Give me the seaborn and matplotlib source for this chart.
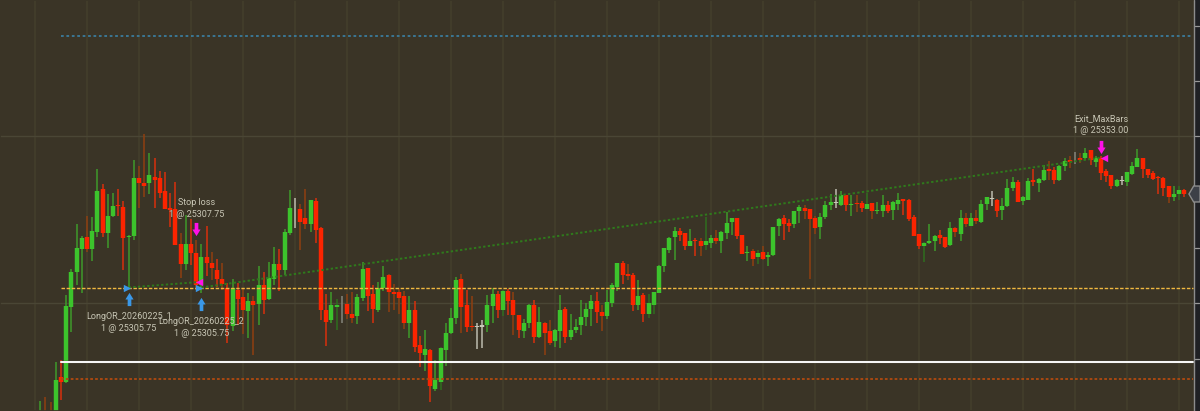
import pandas as pd
import matplotlib.pyplot as plt
import seaborn as sns
from matplotlib.patches import Rectangle

base_price = 25300

# candle values, points above base_price, bar 1 is the first one on the left
open_pts = [
    -46, -41, -40, -42, -26.75, -28.75, -1.5, 11.25, 19.75, 24,
    19.75, 26, 41.5, 25.75, 31.75, 35.75, 35, 24, 24.5, 45.75,
    43.75, 43.75, 46, 45.5, 40.75, 34.75, 34.25, 21.75, 14.25, 21.75,
    18.25, 6.75, 16.75, 14.75, 12, 8.75, 5.75, -8.25, 4.75, 2.25,
    -2.75, 1, -0.25, 6.75, 1.5, 8.75, 14.25, 12, 25.75, 34.75,
    34.25, 31, 28.75, 37.25, 27.25, -2.5, -6, -1.25, -0.5, -0.25,
    -3.75, -4.75, 2, 13, 3.25, -2.25, 5.75, 10.25, 4, 4,
    2.75, -7, -2.25, -15.25, -18.75, -17, -31, -28.5, -17, -10.75,
    -5.25, 8.75, -0.75, -8.25, -8.25, -8, -7.75, -1, 3.5, -2.5,
    4.5, 1.25, -4.25, -10, -7.25, -0.75, -12.25, -7, -10, -13.75,
    -10, -2, -12.25, -9.75, -8, -5, -2, 0.75, -3.25, -4.75,
    0.25, 6, 14.5, 10.75, 10.25, -0.5, 3, -4, -0.5, 3.75,
    13.5, 19.5, 24, 26.25, 25.5, 20.75, 23, 22.75, 21.25, 22,
    23.75, 22.75, 25.75, 29.5, 31, 24.75, 18.25, 19, 16.75, 18.5,
    16.75, 17.5, 28, 31, 29.25, 29, 33.5, 34.75, 34.25, 31,
    27.75, 31.5, 35.75, 36.75, 35.75, 39.5, 35.75, 36.5, 36.5, 34.25,
    36.5, 33.5, 33.75, 35.75, 34, 36, 38, 37.5, 31.25, 25.25,
    21, 22, 22.75, 24.75, 24, 21.25, 27.25, 25.25, 31, 28.25,
    31, 29.5, 36, 38.25, 37.75, 34, 35.25, 42, 44.25, 37.25,
    37.75, 44.75, 43.75, 44.75, 49, 48.5, 44.75, 50, 52, 52.25,
    53, 52.75, 55.75, 51.5, 53, 48, 46.75, 42.75, 44.5, 44.25,
    47, 49.75, 53, 49, 47.25, 46, 45.75, 42.5, 38.75, 39.75, 41.25,
]
close_pts = [
    -42, -44, -43, -27.75, -28.75, -1, 11.25, 20, 23.75, 19.75,
    26.25, 41, 25.5, 31.75, 35.5, 35.25, 23.75, 24.5, 45.75, 43.75,
    42.75, 46.75, 45, 40.25, 34.25, 34, 21.25, 14.25, 21.5, 18.25,
    6.75, 17, 14.75, 12.75, 8.75, 7, -8, 5.75, 1.5, -2.5,
    0.75, -0.5, 6.75, 1.25, 9.25, 14.25, 12, 26, 34.75, 34.5,
    29.75, 28.75, 37.5, 26.75, -2.5, -6.75, -0.75, -0.5, -0.75, -4,
    -5.25, 2.25, 12.5, 2.75, -2, 5.75, 9.75, 4.25, 3.5, 2,
    -7, -2.25, -15.75, -18.25, -16.5, -30.25, -28, -16.25, -10.75, -5.25,
    8.5, -1.25, -8.75, -8.75, -8.75, -8.5, -0.75, 3.25, -2.5, 4.5,
    0.75, -4.25, -9.75, -7, -0.5, -12.25, -6.75, -10.75, -14.5, -9.75,
    -2.25, -12.25, -9.75, -8.5, -5, -2, 0.75, -3.25, -4.75, 0.5,
    6.5, 14.75, 10.25, 10, -0.5, 2.75, -4, 0, 4, 13.5,
    20, 23.75, 26.25, 25, 20.75, 22.75, 22.5, 21, 22.75, 23.75,
    22.5, 26, 29.25, 31, 24.5, 18, 18.75, 16, 18.25, 16.25,
    17.5, 27.75, 30.75, 29, 28.25, 33.5, 35, 33.5, 30.75, 27.5,
    31.5, 35.75, 37, 36.5, 39.25, 35.75, 36, 36, 34.75, 36,
    33.75, 34, 35.75, 33.5, 36.75, 37.75, 37.25, 30.5, 24.5, 21,
    22, 22.75, 24.5, 23.75, 20.5, 27.25, 26, 31, 28.75, 31,
    30, 36, 38.5, 38, 33.75, 35.5, 42, 44, 37, 38.5,
    44.5, 44, 45.25, 48.5, 48, 44.75, 50, 51.75, 51.5, 52,
    52.25, 54.5, 52.25, 53, 47.25, 46.25, 42.5, 44.75, 44.75, 47.75,
    50, 52.75, 48.75, 46.75, 45.25, 45.5, 42, 38.75, 39.75, 41.25, 39.75,
]
high_pts = [
    -35.5, -34, -35.75, -21.5, -20.5, 3, 12.5, 28.75, 24.5, 31.75,
    31.5, 48.75, 43.25, 39.75, 40, 41.5, 37.25, 24.75, 52.25, 50,
    61.5, 54.5, 53, 48, 47.75, 40, 44.25, 25.5, 32, 30.75,
    23, 21.5, 28.25, 18.5, 16, 14.5, 7.25, 9, 7.25, 5.25,
    3.75, 2.5, 13.75, 11.5, 15, 20.5, 19.75, 27, 41.25, 38.25,
    36.25, 41.75, 37.5, 38.25, 27.75, 3.25, 4, 1.75, 2.75, 3.5,
    4.25, 3.5, 15, 13, 6.5, 7.75, 13.5, 10.5, 7, 5.5,
    4.5, 2.75, 0.75, -12, -9.75, -16.75, -20.5, -15.75, -7, -1.75,
    9.75, 10.75, 4.75, 2.5, -7, -6, 3, 5.5, 4.5, 4.75,
    5.25, 4, -4.25, -5.75, -0.25, 1.25, -1.25, -6.75, -6, -9.5,
    3, -1.5, -4, -5.75, 1.25, 0.25, 3, 4, -0.75, 4.75,
    7.25, 14.75, 15.5, 14.25, 11, 8.5, 3.75, 3.5, 4, 14,
    20.25, 24.25, 27.75, 27.25, 25.75, 27, 23.75, 23.75, 31.25, 24.75,
    26.75, 26.25, 33.25, 31, 31, 24.75, 20.75, 19.75, 19.5, 20.75,
    18.75, 27.75, 31, 32.25, 30.75, 33.75, 35.75, 35.75, 34.25, 31.75,
    32.75, 37.25, 39.75, 41.5, 41, 39.5, 39.5, 39.5, 37.25, 40.25,
    36.5, 37, 39.25, 37.25, 37.25, 40.25, 38, 38, 32, 25.25,
    22.25, 28.75, 24.75, 26.75, 24, 29.75, 27.75, 34, 32.75, 33,
    34, 37.5, 38.75, 40.75, 38, 38.25, 45.25, 46, 44.75, 39,
    45.5, 49, 45.75, 50.25, 51.75, 49.75, 50.25, 53, 53.5, 55,
    54.5, 56.5, 55.75, 53.5, 53.5, 48.75, 46.75, 45.25, 46.25, 47.75,
    51.5, 56, 53, 49, 48, 46.25, 46, 42.75, 42.75, 42.75, 41.75,
]
low_pts = [
    -48, -48, -48, -46, -35.25, -29, -10.25, 6.5, 3.75, 18.5,
    15.25, 24.25, 24.25, 20.25, 31.5, 31.75, 12, 5.5, 23, 34.5,
    38.75, 39.75, 34.75, 38.25, 34.25, 27.75, 21.25, 9.25, 12, 14,
    4.75, 3.75, 10, 8.5, 6, 4.75, -14.5, -10, -8, -11,
    -12.5, -18.75, -8, -4, 1.25, 6.75, 4.5, 10.25, 24.75, 27.25,
    19.5, 27, 26, 22, -6, -15.5, -7, -9.75, -7.25, -5.75,
    -7, -7.5, 1, -2.75, -7, -3, 4.5, -3, -2.5, -4,
    -9.25, -12.5, -17.75, -23, -24.5, -35.75, -32, -31.5, -22.75, -11.25,
    -7.5, -10.75, -10.5, -10, -16.5, -16.25, -10.25, -7, -5.25, -4.5,
    -4.25, -11.5, -12.75, -12.5, -9, -14.25, -12.5, -18.75, -15.25, -16,
    -16.25, -14.25, -13.5, -10.75, -11.5, -8.25, -8.25, -7, -10, -5.75,
    -1.25, 4.5, 7, 8.5, -2.75, -2.25, -6.75, -5.25, -4, 3.75,
    11.25, 18.25, 15.75, 22.75, 19.5, 20.75, 17.25, 17.25, 19.5, 20,
    21.5, 18.25, 23.5, 24.75, 23.5, 18, 15.5, 13.5, 14.25, 15.75,
    13.5, 17.25, 24.5, 23, 26, 27.5, 29.25, 30.5, 8.75, 25.25,
    23.25, 30.5, 34, 34.5, 35.5, 33.5, 31.75, 33.25, 33.25, 34.25,
    30.75, 32.5, 31.5, 32.75, 30.25, 34, 32, 30, 24.5, 19.75,
    15, 21.75, 19, 21.75, 20.25, 21, 24, 22.75, 27.75, 28,
    28.75, 29.25, 34, 35.5, 31.25, 30.25, 35, 41, 37, 35.75,
    37.5, 42.5, 40.5, 44.5, 44.75, 43.5, 44.5, 48.25, 49.25, 50.75,
    51, 52, 50.25, 49.75, 44.75, 44, 41.5, 42.25, 43, 42.75,
    46.75, 49.5, 45.75, 45.75, 44.75, 39.75, 39, 36.5, 37.25, 37.75, 38.5,
]

doji_bars = [50, 85, 86, 154, 184, 209]
gray_bars = [59, 200]
brown_wicks = [2, 3, 10, 20, 21, 28, 31, 34, 36, 40, 42, 51, 52, 60, 61, 68, 69, 70, 71,
               82, 84, 92, 98, 99, 109, 114, 128, 131, 138, 140, 148, 149, 150, 158,
               161, 177, 179, 181, 195, 199, 201, 218]
dim_wicks = [58, 78, 90, 118, 119, 129, 139, 160, 171, 220]

# horizontal levels on the chart
level_blue = 97.2
level_entry = 5.75
level_white = -21.35
level_brown = -27.5
level_start_bar = 5
level_end_bar = 222.7

# price scale, ticks sit a touch wider than the candle reading
grid_prices = [25300, 25360.7]
scale_ticks = [25279.8, 25300, 25320.2, 25340.4, 25380.8, 25401]

# trades
entry_bars = [18, 32]
entry_prices = [25305.75, 25305.75]
stop_bar = 31
stop_price = 25307.75
exit_bar = 205
exit_price = 25353.00
entry_arrow_y = [25301.4, 25299.6]
exit_arrow_bars = [31, 205]
exit_arrow_y = [25327.0, 25357.0]
labels = [
    (18, 25295.3, "LongOR_20260225_1"),
    (18, 25290.9, "1 @ 25305.75"),
    (32, 25293.5, "LongOR_20260225_2"),
    (32, 25289.1, "1 @ 25305.75"),
    (31, 25336.8, "Stop loss"),
    (31, 25332.4, "1 @ 25307.75"),
    (205, 25367.2, "Exit_MaxBars"),
    (205, 25362.9, "1 @ 25353.00"),
]

bg = "#3a3426"
green = "#3cc42c"
red = "#fb2400"
text_col = "#c9c7b6"

sns.set_theme(style="darkgrid", rc={
    "figure.facecolor": bg,
    "axes.facecolor": bg,
    "axes.edgecolor": bg,
})
plt.rcParams["font.family"] = ["Roboto", "DejaVu Sans"]

# Build candle table
df = pd.DataFrame({"open": open_pts, "high": high_pts, "low": low_pts, "close": close_pts})
df[["open", "high", "low", "close"]] += base_price
df["bar"] = range(1, len(df) + 1)


def body_kind(row):
    if row["bar"] in doji_bars:
        return "doji"
    if row["bar"] in gray_bars:
        return "gray"
    return "up" if row["close"] > row["open"] else "down"


def wick_kind(row):
    if row["bar"] in doji_bars or row["bar"] in gray_bars:
        return body_kind(row)
    if row["bar"] in brown_wicks:
        return "brown"
    if row["bar"] in dim_wicks:
        return "dim"
    return body_kind(row)


df["body"] = df.apply(body_kind, axis=1)
df["wick"] = df.apply(wick_kind, axis=1)

wicks = pd.concat([
    df[["bar", "high", "wick"]].rename(columns={"high": "price"}),
    df[["bar", "low", "wick"]].rename(columns={"low": "price"}),
])
bodies = pd.concat([
    df[["bar", "open", "body"]].rename(columns={"open": "price"}),
    df[["bar", "close", "body"]].rename(columns={"close": "price"}),
])

wick_colors = {"up": "#3f9a2a", "down": "#d8300c", "brown": "#8f3f10", "dim": "#2f6e1f",
               "doji": "#bdbcae", "gray": "#85857b"}
body_colors = {"up": green, "down": red, "doji": "#c8c8b8", "gray": "#9a9a90"}

fig = plt.figure(figsize=(12, 4.11), dpi=100)
ax = fig.add_axes([0, 0, 1, 1])

sns.lineplot(data=wicks, x="bar", y="price", hue="wick", units="bar", estimator=None,
             palette=wick_colors, linewidth=1.1, legend=False, sort=False,
             solid_capstyle="butt", ax=ax)
sns.lineplot(data=bodies, x="bar", y="price", hue="body", units="bar", estimator=None,
             palette=body_colors, linewidth=3.2, legend=False, sort=False,
             solid_capstyle="butt", ax=ax)

# Level lines
span = [level_start_bar, level_end_bar]
ax.plot(span, [base_price + level_blue] * 2, color="#3b7c9c", lw=1.3, ls=(0, (1.5, 1.5)), zorder=5)
ax.plot(span, [base_price + level_entry] * 2, color="#f0b840", lw=1.0, ls=(0, (2.5, 1.2)), zorder=5)
ax.plot(span, [base_price + level_white + 0.35] * 2, color="#26251f", lw=1.0, zorder=5)
ax.plot(span, [base_price + level_white] * 2, color="#f6f6f6", lw=1.5, zorder=5)
ax.plot(span, [base_price + level_brown] * 2, color="#b04a10", lw=1.3, ls=(0, (1.5, 1.2)), zorder=5)

# Trade connector lines
ax.plot([entry_bars[0], stop_bar + 0.5], [entry_prices[0], stop_price],
        color="#2f7a1c", lw=1.4, ls=(0, (1.2, 1.2)), zorder=5)
ax.plot([entry_bars[1], exit_bar], [entry_prices[1], exit_price],
        color="#2f7a1c", lw=1.4, ls=(0, (1.2, 1.2)), zorder=5)

# Arrow markers
up_arrow = [(-0.28, -1), (0.28, -1), (0.28, 0), (0.62, 0), (0, 1), (-0.62, 0), (-0.28, 0)]
down_arrow = [(x, -y) for x, y in up_arrow]
sns.scatterplot(x=entry_bars, y=entry_arrow_y, marker=up_arrow, s=90, color="#3a98e8",
                linewidth=0, legend=False, zorder=6, ax=ax)
sns.scatterplot(x=exit_arrow_bars, y=exit_arrow_y, marker=down_arrow, s=90, color="#ff10e8",
                linewidth=0, legend=False, zorder=6, ax=ax)
sns.scatterplot(x=[b - 0.4 for b in entry_bars], y=entry_prices, marker=">", s=28, color="#3a98e8",
                linewidth=0, legend=False, zorder=6, ax=ax)
sns.scatterplot(x=[stop_bar + 0.5, exit_bar + 0.5], y=[stop_price, exit_price], marker="<", s=28,
                color="#ff10e8", linewidth=0, legend=False, zorder=6, ax=ax)

for bar, price, label in labels:
    ax.text(bar, price, label, color=text_col, fontsize=6.5, ha="center", va="center", zorder=7)

# Grid and limits
ax.set_xlim(-6.73, 224.04)
ax.set_ylim(25260.84, 25410.3)
ax.set_xticks(range(0, 230, 10))
ax.set_yticks(grid_prices)
ax.grid(True, axis="x", linewidth=1.4, color="#423d2b")
ax.grid(True, axis="y", linewidth=1.0, color="#4a4635")
ax.tick_params(left=False, bottom=False, labelleft=False, labelbottom=False)
ax.set_xlabel("")
ax.set_ylabel("")

# Price scale strip on the right
ax.add_patch(Rectangle((0.995, 0), 0.005, 1, transform=ax.transAxes, facecolor="#1f2024",
                       edgecolor="none", zorder=8))
ax.plot([0.995, 0.995], [0, 1], transform=ax.transAxes, color="#8c8c8c", lw=1.0, zorder=9)
strip = ax.get_yaxis_transform()
for tick in scale_ticks + [grid_prices[1]]:
    ax.plot([0.9955, 0.9992], [tick, tick], transform=strip, color="#9a9a9a", lw=0.9, zorder=9)
last = df["close"].iloc[-1]
hexagon_x = [0.9908, 0.9947, 1.0, 1.0, 0.9947]
hexagon_y = [last, last + 2.9, last + 2.9, last - 2.9, last - 2.9]
ax.fill(hexagon_x, hexagon_y, transform=strip, facecolor="#3d4047", edgecolor="#8c8c8c",
        lw=1.0, zorder=10, clip_on=True)

plt.savefig("out.png", dpi=100, facecolor=bg)
